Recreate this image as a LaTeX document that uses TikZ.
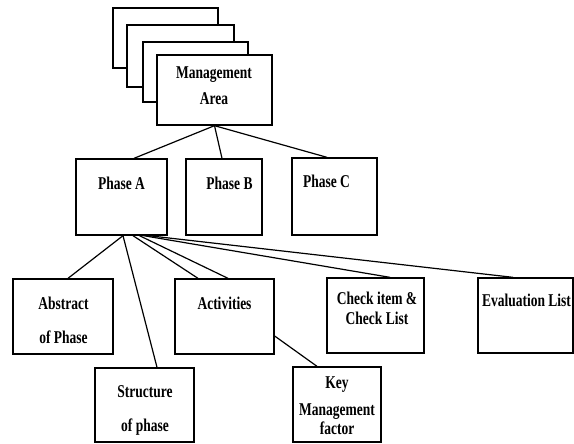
\documentclass[tikz,border=0pt]{standalone}
\usepackage{fontspec}
\setmainfont{Liberation Serif}[FakeStretch=0.75]
\usetikzlibrary{calc}

\begin{document}
\begin{tikzpicture}[x=0.75pt,y=-0.75pt,
  box/.style={draw,fill=white,line width=1pt,inner sep=0pt},
  sz/.style 2 args={minimum width=#1*0.75pt,minimum height=#2*0.75pt},
  txt/.style={font=\fontsize{13.5}{15}\selectfont\bfseries,align=center,inner sep=0pt},
  link/.style={line width=.9pt}]
\useasboundingbox (0,0) rectangle (574,443);

% stacked management areas
\node[box,sz={105}{60}] (back1) at (165.5,38) {};
\node[box,sz={107}{62}] (back2) at (180.5,56) {};
\node[box,sz={105}{60}] (back3) at (195.5,72) {};
\node[box,sz={115}{70}] (mgmt) at (214.5,90) {};
\node[txt] (mgmtT) at (214,86) {Management\\[4.5pt]Area};

% phases
\node[box,sz={91}{76}] (phA) at (121.5,197) {};
\node[box,sz={76}{76}] (phB) at (224,197) {};
\node[box,sz={85}{77}] (phC) at (334.5,196.5) {};
\node[txt] (phAT) at (121.5,183) {Phase A};
\node[txt] (phBT) at (229.5,183) {Phase B};
\node[txt] (phCT) at (326.5,181) {Phase C};

% contents of phase A
\node[box,sz={100}{75}] (abs) at (63,316.5) {};
\node[box,sz={99}{74}] (str) at (144.5,405) {};
\node[box,sz={99}{75}] (act) at (224.5,316.5) {};
\node[box,sz={97}{75}] (chk) at (375.5,315.5) {};
\node[box,sz={95}{75}] (eva) at (525.5,315.5) {};
\node[box,sz={88}{75}] (key) at (337,404.5) {};

\node[txt] (absT) at (63.5,320) {Abstract\\[10.5pt]of Phase};
\node[txt] (strT) at (145,410) {Structure\\[10.5pt]of phase};
\node[txt] (actT) at (224.5,303) {Activities};
\node[txt] (chkT) at (377,308) {Check item \&\\Check List};
\node[txt] (evaT) at (526.5,300) {Evaluation List};
\node[txt] (keyT) at (337,406) {Key\\[5pt]Management\\[-.75pt]factor};

% connectors
\draw[link] (mgmt.south) -- ($(phA.north)+(12.5,0)$);
\draw[link] (mgmt.south) -- ($(phB.north)+(-2,0)$);
\draw[link] (mgmt.south) -- ($(phC.north)+(-7.5,0)$);

\draw[link] ($(phA.south)+(1.5,0)$) -- ($(abs.north)+(5,0)$);
\draw[link] ($(phA.south)+(1.5,0)$) -- ($(str.north)+(12.5,0)$);
\draw[link] ($(phA.south)+(11.5,0)$) -- ($(act.north)+(-26.5,0)$);
\draw[link] ($(phA.south)+(18,0)$) -- ($(act.north)+(3.5,0)$);
\draw[link] ($(phA.south)+(22,0)$) -- ($(chk.north)+(14.5,0)$);
\draw[link] ($(phA.south)+(27,0)$) -- ($(eva.north)+(-12.5,0)$);
\draw[link] ($(act.east)+(0,19.5)$) -- ($(key.north)+(-20,0)$);

\end{tikzpicture}
\end{document}
